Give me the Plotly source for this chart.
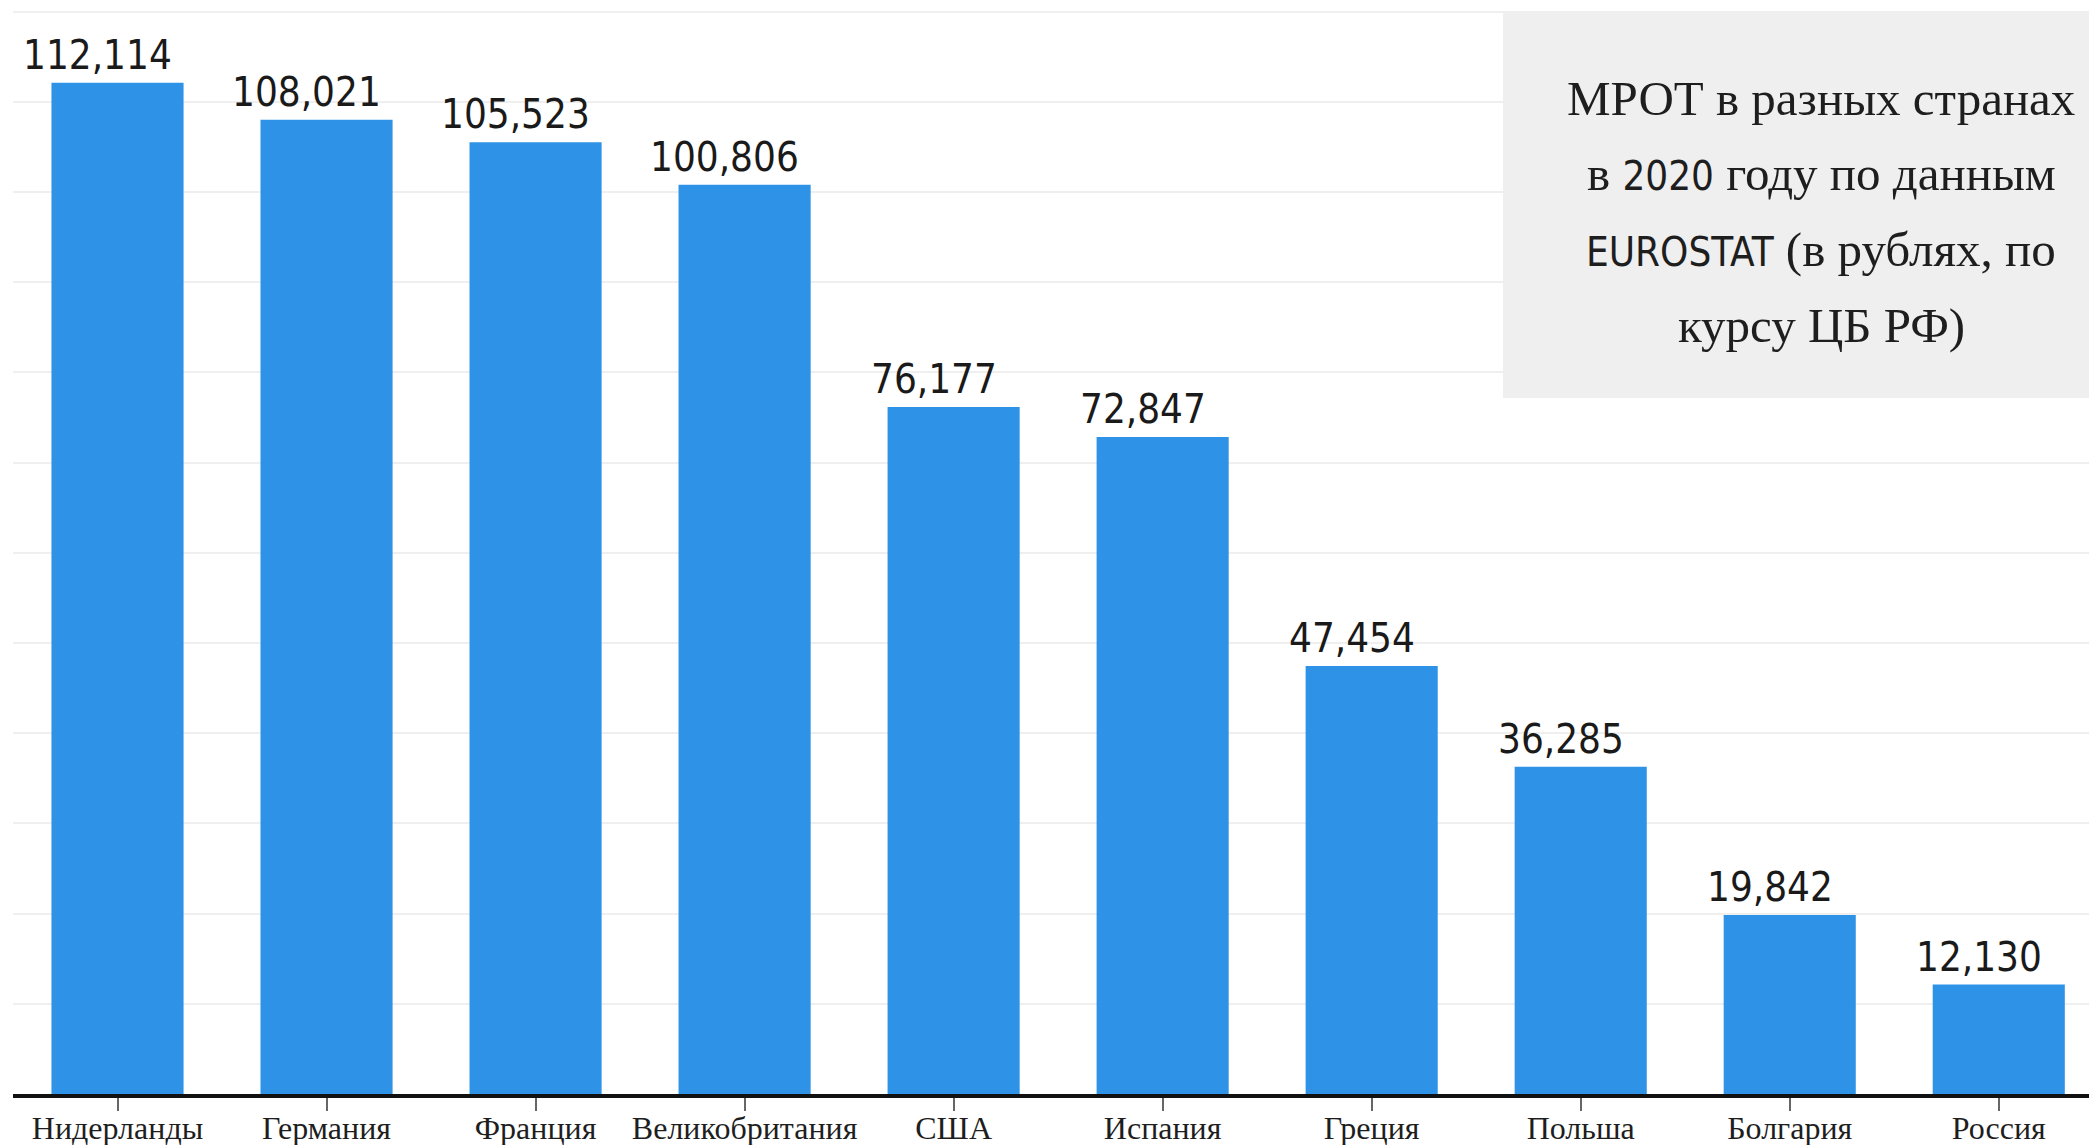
import plotly.graph_objects as go

countries = ["Нидерланды", "Германия", "Франция", "Великобритания", "США",
             "Испания", "Греция", "Польша", "Болгария", "Россия"]
values = [112114, 108021, 105523, 100806, 76177, 72847, 47454, 36285, 19842, 12130]

NARROW = "Liberation Sans Narrow, DejaVu Sans Condensed, Roboto, sans-serif"
SERIF = "Liberation Serif, Times New Roman, serif"
sp = "<span style='font-family:\"Liberation Sans Narrow\",\"DejaVu Sans Condensed\",sans-serif;font-size:40px'>{}</span>"

title_lines = [
    "МРОТ в разных странах",
    "в " + sp.format("2020") + " году по данным",
    sp.format("EUROSTAT") + " (в рублях, по",
    "курсу ЦБ РФ)",
]

BAR = "#2e93e7"

# page has an 8px body margin; the figure is sized to fit the 2097x1145 window
OFF = 8
W, H = 2089, 1137
ml, mr, mt, mb = 5, 0, 0, 51
pw, ph = W - ml - mr, H - mt - mb

def px(page_x):
    return (page_x - OFF - ml) / pw

def py(page_y):
    return 1 - (page_y - OFF - mt) / ph

fig = go.Figure()
fig.add_trace(go.Bar(x=countries, y=values, marker=dict(color=BAR, line=dict(width=0)),
                     hoverinfo="skip"))

for c, v in zip(countries, values):
    fig.add_annotation(x=c, y=v, text=f"{v:,}", showarrow=False,
                       xanchor="center", yanchor="bottom", xshift=-20, yshift=3,
                       font=dict(family=NARROW, size=40, color="#1a1a1a"))

fig.add_shape(type="rect", xref="paper", yref="paper",
              x0=px(1503), x1=1.01, y0=py(398), y1=py(11),
              fillcolor="#efefef", line=dict(width=0), layer="above")

for line, ypix in zip(title_lines, [99, 174, 250, 325]):
    fig.add_annotation(xref="paper", yref="paper", x=px(1821), y=py(ypix),
                       text=line, showarrow=False, xanchor="center", yanchor="middle",
                       font=dict(family=SERIF, size=49, color="#1e1e1e"))

fig.update_layout(
    width=W, height=H,
    margin=dict(l=ml, r=mr, t=mt, b=mb),
    paper_bgcolor="white", plot_bgcolor="white",
    bargap=0.368, showlegend=False,
    xaxis=dict(
        range=[-0.5, 9.47], showgrid=False, showline=True, linecolor="#111111",
        linewidth=4, ticks="outside", ticklen=13, tickwidth=1.5, tickcolor="#666666",
        ticklabelstandoff=-10,
        tickfont=dict(family=SERIF, size=32, color="#1e1e1e"), automargin=False,
    ),
    yaxis=dict(
        range=[0, 120400], dtick=10000, showgrid=True, gridcolor="#efefef",
        gridwidth=2, zeroline=False, showticklabels=False, showline=False,
        automargin=False,
    ),
)

fig.write_html("out.html", config={"displayModeBar": False})
